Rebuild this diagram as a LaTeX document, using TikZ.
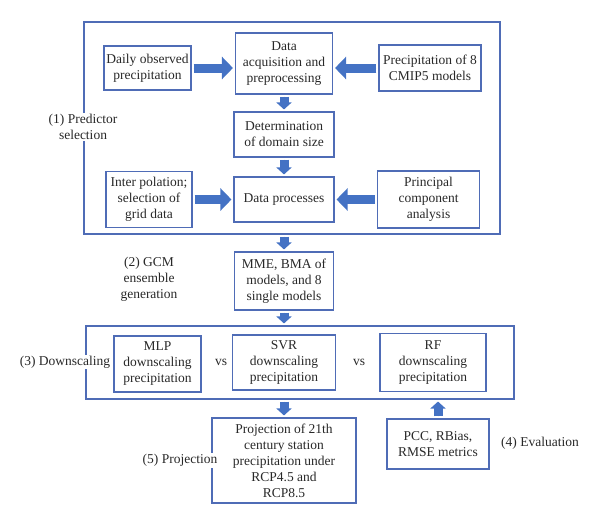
\documentclass[tikz,border=0pt]{standalone}
\usepackage{fontspec}
\setmainfont{Liberation Serif}
\usepackage{tikz}
\usetikzlibrary{shapes,arrows.meta,positioning,calc}
\definecolor{frameblue}{RGB}{79,108,182}
\definecolor{arrowblue}{RGB}{68,114,196}
\definecolor{inkgray}{RGB}{40,40,40}

\begin{document}
\begin{tikzpicture}[x=1pt,y=1pt,node distance=71pt,
	txt/.style={font=\fontsize{13.5}{16}\selectfont, text=inkgray, align=center},
	box/.style={txt, rectangle, draw=frameblue, line width=1.1pt, inner sep=2pt},
	frame/.style={rectangle, draw=frameblue, line width=1.1pt},
	lab/.style={txt, fill=white, inner sep=1pt},
	bigarrow/.style={draw=arrowblue, fill=arrowblue, line width=9pt, -{Triangle[width=22pt,length=11pt]}, shorten <=2pt, shorten >=2pt},
	smallarrow/.style={draw=arrowblue, fill=arrowblue, line width=9pt, -{Triangle[width=15pt,length=7pt]}, shorten <=2pt, shorten >=2pt}]
	\useasboundingbox (0,0) rectangle (600,-525);
	\node (F1) at (292,-128) [frame, minimum width=416pt, minimum height=212pt] {};
	\node (F3) at (300,-362.5) [frame, minimum width=428pt, minimum height=73pt] {};

	\node (acq) at (284,-63.5) [box, minimum width=97pt, minimum height=61pt] {Data\\acquisition and\\preprocessing};
	\node (daily) [box, node distance=136.5pt, left of=acq, yshift=-4.5pt, minimum width=87pt, minimum height=44pt] {Daily observed\\precipitation};
	\node (precip) [box, node distance=146pt, right of=acq, yshift=-4.5pt, minimum width=102pt, minimum height=46pt] {Precipitation of 8\\CMIP5 models};
	\node (domain) [box, below of=acq, minimum width=100pt, minimum height=45pt] {Determination\\of domain size};
	\node (proc) [box, node distance=65pt, below of=domain, minimum width=100pt, minimum height=45pt] {Data processes};
	\node (inter) [box, node distance=135pt, left of=proc, minimum width=86pt, minimum height=56pt] {Inter polation;\\selection of\\grid data};
	\node (pca) [box, node distance=144.5pt, right of=proc, minimum width=102pt, minimum height=57pt] {Principal\\component\\analysis};
	\node (mme) [box, node distance=81.5pt, below of=proc, minimum width=99pt, minimum height=58pt] {MME, BMA of\\models, and 8\\single models};
	\node (svr) [box, node distance=81.5pt, below of=mme, minimum width=103pt, minimum height=55pt] {SVR\\downscaling\\precipitation};
	\node (mlp) [box, node distance=126.5pt, left of=svr, yshift=-1.5pt, minimum width=87pt, minimum height=56pt] {MLP\\downscaling\\precipitation};
	\node (rf) [box, node distance=149pt, right of=svr, minimum width=106pt, minimum height=58pt] {RF\\downscaling\\precipitation};
	\node (proj) [box, node distance=98pt, below of=svr, minimum width=144pt, minimum height=85pt] {Projection of 21th\\century station\\precipitation under\\RCP4.5 and\\RCP8.5};
	\node (pcc) [box, node distance=154pt, right of=proj, yshift=16.5pt, minimum width=102pt, minimum height=50pt] {PCC, RBias,\\RMSE metrics};

	\node (vsa) [txt, node distance=63.5pt, right of=mlp, yshift=1.5pt] {vs};
	\node (vsb) [txt, node distance=75pt, right of=svr] {vs};
	\node (sel) at (83,-127) [lab] {(1) Predictor\\selection};
	\node (gcm) at (149,-279) [txt] {(2) GCM\\ensemble\\generation};
	\node (down) at (65,-362) [lab] {(3) Downscaling};
	\node (eval) [txt, node distance=102pt, right of=pcc, yshift=1pt] {(4) Evaluation};
	\node (projlab) [lab, node distance=104pt, left of=proj] {(5) Projection};

	\draw[bigarrow] (daily) -- (daily -| acq.west);
	\draw[bigarrow] (precip) -- (precip -| acq.east);
	\draw[bigarrow] (inter) -- (inter -| proc.west);
	\draw[bigarrow] (pca) -- (pca -| proc.east);
	\draw[smallarrow] (acq) -- (domain);
	\draw[smallarrow] (domain) -- (proc);
	\draw[smallarrow] (F1.south -| mme) -- (mme);
	\draw[smallarrow] (mme) -- (mme |- F3.north);
	\draw[smallarrow] (proj |- F3.south) -- (proj);
	\draw[smallarrow] (pcc) -- (pcc |- F3.south);
\end{tikzpicture}
\end{document}
